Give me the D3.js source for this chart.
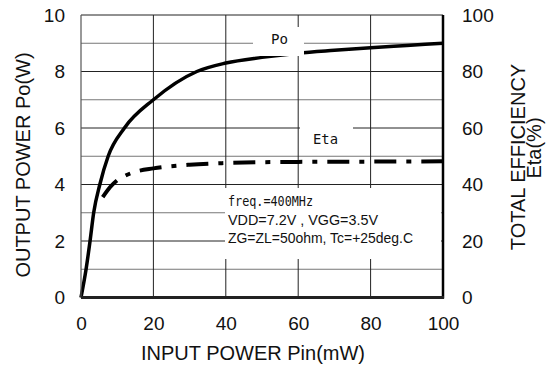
<!DOCTYPE html>
<html lang="en">
<head>
    <meta charset="UTF-8">
    <title>Po / Eta vs Pin</title>
    <style>
        body { margin: 0; background: #fff; }
        svg { display: block; }
        text { font-family: "Liberation Sans", Arial, sans-serif; fill: #111; }
    </style>
</head>
<body>
    <svg id="chart" width="552" height="371"></svg>

    <script src="https://d3js.org/d3.v7.min.js"></script>
    <script>
        // values
        const pinPo = [0, 1.4, 2.5, 3.5, 5.2, 7.5, 12, 20, 32, 40, 50, 60, 70, 80, 90, 100];
        const poW   = [0, 1, 2, 3, 4, 5, 6, 7, 8, 8.3, 8.5, 8.65, 8.75, 8.84, 8.92, 9.0];
        const pinEta = [6, 8, 10, 12, 15, 20, 30, 40, 50, 60, 80, 100];
        const etaPct = [35.5, 39, 41.5, 43, 44.5, 45.7, 47, 47.6, 47.9, 48, 48.1, 48.2];

        const xTicks = [0, 20, 40, 60, 80, 100];
        const yLeftTicks = [0, 2, 4, 6, 8, 10];
        const yRightTicks = [0, 20, 40, 60, 80, 100];
        const notes = ["freq.=400MHz", "VDD=7.2V , VGG=3.5V", "ZG=ZL=50ohm, Tc=+25deg.C"];

        const svg = d3.select("#chart");
        const plotL = 81, plotR = 443, plotT = 15, plotB = 297.5;

        const x = d3.scaleLinear().domain([0, 100]).range([plotL, plotR]);
        const yL = d3.scaleLinear().domain([0, 10]).range([plotB, plotT]);
        const yR = d3.scaleLinear().domain([0, 100]).range([plotB, plotT]);

        // grid
        const grid = svg.append("g");
        grid.selectAll(".hg")
            .data(d3.range(1, 10))
            .enter().append("line")
            .attr("x1", plotL).attr("x2", plotR)
            .attr("y1", d => yL(d)).attr("y2", d => yL(d))
            .attr("stroke", d => d % 2 ? "#777" : "#222")
            .attr("stroke-width", 1);
        grid.selectAll(".vg")
            .data(xTicks.slice(1, -1))
            .enter().append("line")
            .attr("x1", d => x(d)).attr("x2", d => x(d))
            .attr("y1", plotT).attr("y2", plotB)
            .attr("stroke", "#222")
            .attr("stroke-width", 1);

        // curves
        const poLine = d3.line()
            .x((d, i) => x(pinPo[i]))
            .y(d => yL(d))
            .curve(d3.curveMonotoneX);
        svg.append("path")
            .attr("d", poLine(poW))
            .attr("fill", "none")
            .attr("stroke", "#000")
            .attr("stroke-width", 3.5);

        const etaLine = d3.line()
            .x((d, i) => x(pinEta[i]))
            .y(d => yR(d))
            .curve(d3.curveMonotoneX);
        svg.append("path")
            .attr("d", etaLine(etaPct))
            .attr("fill", "none")
            .attr("stroke", "#000")
            .attr("stroke-width", 4)
            .attr("stroke-dasharray", "22,10,5,10");

        // label boxes (white, they cut the grid and curve)
        svg.append("rect").attr("x", 253).attr("y", 27).attr("width", 51).attr("height", 29).attr("fill", "#fff");
        svg.append("rect").attr("x", 300).attr("y", 112).attr("width", 53).attr("height", 38).attr("fill", "#fff");
        svg.append("rect").attr("x", 225).attr("y", 188).attr("width", 216).attr("height", 71).attr("fill", "#fff");

        svg.append("text").attr("x", 271).attr("y", 44)
            .style("font-family", "'DejaVu Sans Mono', monospace")
            .style("font-size", "14px")
            .attr("textLength", 17).attr("lengthAdjust", "spacingAndGlyphs")
            .text("Po");
        svg.append("text").attr("x", 313).attr("y", 144)
            .style("font-family", "'DejaVu Sans Mono', monospace")
            .style("font-size", "14px")
            .attr("textLength", 25).attr("lengthAdjust", "spacingAndGlyphs")
            .text("Eta");

        const noteY = [205.5, 224.5, 242.5];
        const noteW = [85, 150, 185];
        svg.selectAll(".note")
            .data(notes)
            .enter().append("text")
            .attr("class", "note")
            .attr("x", 228)
            .attr("y", (d, i) => noteY[i])
            .attr("textLength", (d, i) => noteW[i])
            .attr("lengthAdjust", "spacingAndGlyphs")
            .style("font-family", (d, i) => i === 0 ? "'DejaVu Sans Mono', monospace" : "'Liberation Sans', Arial, sans-serif")
            .style("font-size", "14px")
            .text(d => d);

        // frame
        svg.append("line").attr("x1", plotL).attr("x2", plotR).attr("y1", plotT).attr("y2", plotT)
            .attr("stroke", "#222").attr("stroke-width", 1);
        svg.append("line").attr("x1", plotL).attr("x2", plotL).attr("y1", plotT).attr("y2", plotB)
            .attr("stroke", "#555").attr("stroke-width", 1.2);
        svg.append("line").attr("x1", plotR).attr("x2", plotR).attr("y1", plotT).attr("y2", plotB + 1)
            .attr("stroke", "#000").attr("stroke-width", 2.5);
        svg.append("line").attr("x1", plotL).attr("x2", plotR + 1).attr("y1", plotB).attr("y2", plotB)
            .attr("stroke", "#222").attr("stroke-width", 3);

        // axes (labels only)
        const styleAxis = g => {
            g.select(".domain").remove();
            g.selectAll(".tick line").remove();
            g.selectAll("text").style("font-size", "19px").attr("fill", "#111");
        };
        svg.append("g").attr("transform", `translate(${plotL},0)`)
            .call(d3.axisLeft(yL).tickValues(yLeftTicks).tickSize(0).tickPadding(16))
            .call(styleAxis);
        svg.append("g").attr("transform", `translate(${plotR},0)`)
            .call(d3.axisRight(yR).tickValues(yRightTicks).tickSize(0).tickPadding(19))
            .call(styleAxis);
        svg.append("g").attr("transform", `translate(0,${plotB})`)
            .call(d3.axisBottom(x).tickValues(xTicks).tickSize(0).tickPadding(19))
            .call(styleAxis);

        // titles
        svg.append("text").attr("x", 253).attr("y", 360)
            .attr("text-anchor", "middle").style("font-size", "20px")
            .text("INPUT POWER Pin(mW)");
        svg.append("text").attr("transform", "translate(30,165) rotate(-90)")
            .attr("text-anchor", "middle").style("font-size", "20px")
            .text("OUTPUT POWER Po(W)");
        svg.append("text").attr("transform", "translate(525,157) rotate(-90)")
            .attr("text-anchor", "middle").style("font-size", "20px")
            .text("TOTAL EFFICIENCY");
        svg.append("text").attr("transform", "translate(541,148) rotate(-90)")
            .attr("text-anchor", "middle").style("font-size", "20px")
            .text("Eta(%)");
    </script>
</body>
</html>
